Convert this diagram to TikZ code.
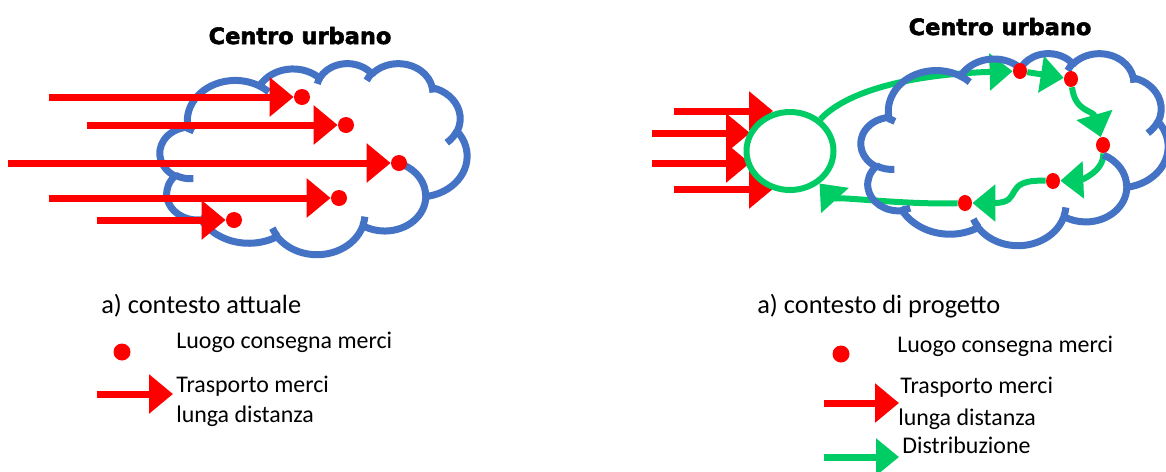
\documentclass[tikz,border=0pt]{standalone}
\usepackage{fontspec}
\setmainfont{Carlito}
\newfontfamily\titlefont{DejaVu Sans}[BoldFeatures={FakeBold=2.5}]
\usetikzlibrary{arrows.meta,shapes.geometric}
\definecolor{cloudblue}{HTML}{4472C4}
\definecolor{distgreen}{HTML}{00CC66}
\definecolor{freightred}{HTML}{FF0000}
\pgfdeclarelayer{back}
\pgfsetlayers{back,main}
\tikzset{
	officearc/.style n args={4}{x radius=#1,y radius=#2,
		start angle={atan2(#1*sin(#3),#2*cos(#3))},
		delta angle={mod(atan2(#1*sin(#3+#4),#2*cos(#3+#4))-atan2(#1*sin(#3),#2*cos(#3))+720,360)}}
}
\newcommand\officecloud{%
	\draw[cloudline] (3.900,14.370)
		\foreach \a/\b/\s/\d in {6.753/9.190/-190.4875/123.7805,5.333/7.267/-144.1024/89.9452,
			4.365/5.945/-145.8079/99.7230,4.857/6.595/-130.9861/117.2417,5.333/7.273/-78.7089/109.0269,
			6.775/9.220/-46.2673/130.2690,5.785/7.867/0.6250/114.0333,6.752/9.215/22.4516/115.1726,
			7.720/10.543/66.2426/75.7110,4.360/5.918/-274.9421/146.7356,4.345/5.945/-246.8285/152.5189}
		{arc[officearc={\a}{\b}{\s}{\d}]} -- cycle;
	\foreach \x/\y/\a/\b/\s/\d in {4.693/26.177/4.345/5.945/86.7420/26.4295,6.928/34.899/4.360/5.918/73.6105/11.4475,
		16.478/39.090/6.752/9.215/137.6242/14.0811,28.827/34.751/6.752/9.215/6.4533/15.9984,
		34.129/22.954/5.785/7.867/-70.2924/70.9174,41.798/15.354/5.333/7.273/30.3180/27.7515,
		38.324/5.426/4.857/6.595/-13.7443/14.8589,29.078/3.952/4.857/6.595/-149.1815/18.1954,
		22.141/4.720/4.365/5.945/-163.4943/17.6864,14.000/5.192/6.753/9.190/-66.7070/12.3194,
		4.127/15.789/6.753/9.190/-157.6544/11.8582}
		\draw[cloudline] (\x,\y) arc[officearc={\a}{\b}{\s}{\d}];
}

\begin{document}
\begin{tikzpicture}[x=0.02cm,y=-0.02cm,
	cloudline/.style={draw=cloudblue,line width=0.14cm,line join=round},
	haul/.style={freightred,line width=0.14cm,-{Triangle[length=0.48cm,width=0.76cm]}},
	tour/.style={distgreen,line width=0.12cm,-{Triangle[length=0.46cm,width=0.72cm]}},
	spot/.style={circle,fill=freightred,inner sep=0pt,minimum size=0.32cm},
	spotr/.style={ellipse,fill=freightred,inner sep=0pt,minimum width=0.28cm,minimum height=0.32cm},
	hubring/.style={ellipse,draw=distgreen,line width=0.12cm,minimum width=1.74cm,minimum height=1.56cm,inner sep=0pt},
	title/.style={anchor=base,inner sep=0pt,font=\titlefont\bfseries\fontsize{12.8}{14}\selectfont},
	heading/.style={anchor=base west,inner sep=0pt,font=\fontsize{15}{18}\selectfont},
	legend/.style={anchor=base west,inner sep=0pt,font=\fontsize{13.6}{16}\selectfont}]
	\useasboundingbox (0,0) rectangle (1166,471);

	\begin{pgfonlayer}{back}
		\begin{scope}[shift={(160,63)},xscale=7.1065,yscale=4.4213]
			\officecloud
		\end{scope}
	\end{pgfonlayer}
	\node[title] (t1) at (300,44) {Centro urbano};
	\node[spot] (d1) at (302,97) {};
	\node[spot] (d2) at (346,125) {};
	\node[spot] (d3) at (399,163) {};
	\node[spot] (d4) at (339,198) {};
	\node[spot] (d5) at (234,220) {};
	\coordinate (s1) at (49,97);
	\coordinate (s2) at (87,125);
	\coordinate (s3) at (8,163);
	\coordinate (s4) at (49,198);
	\coordinate (s5) at (97,220);
	\draw[haul] (s1) -- (d1);
	\draw[haul] (s2) -- (d2);
	\draw[haul] (s3) -- (d3);
	\draw[haul] (s4) -- (d4);
	\draw[haul] (s5) -- (d5);

	\node[heading] (h1) at (101,313) {a) contesto attuale};
	\node[spot,minimum size=0.34cm] (k1) at (122,352) {};
	\node[legend] (k1t) at (176,348) {Luogo consegna merci};
	\coordinate (k2a) at (97,394);
	\coordinate (k2b) at (173,394);
	\draw[haul] (k2a) -- (k2b);
	\node[legend] (k2t) at (176,392) {Trasporto merci};
	\node[legend] (k2u) at (176,422) {lunga distanza};

	\node[title] (t2) at (1000,35) {Centro urbano};
	\node[spotr] (r1) at (1020,71) {};
	\node[spotr] (r2) at (1071,79) {};
	\node[spotr] (r3) at (1103,145) {};
	\node[spotr] (r4) at (1053,181) {};
	\node[spotr] (r5) at (965,203) {};
	\begin{pgfonlayer}{back}
		\coordinate (a1) at (674,111);
		\coordinate (a2) at (652,133);
		\coordinate (a3) at (652,163);
		\coordinate (a4) at (674,189);
		\coordinate (b1) at (773,111);
		\coordinate (b2) at (750,133);
		\coordinate (b3) at (750,163);
		\coordinate (b4) at (773,189);
		\draw[haul] (a1) -- (b1);
		\draw[haul] (a2) -- (b2);
		\draw[haul] (a3) -- (b3);
		\draw[haul] (a4) -- (b4);
		\node[hubring] (hub) at (790,151) {};
		\draw[tour] (hub) .. controls (850,88) and (920,74) .. (r1);
		\draw[tour] (r1) -- (r2);
		\draw[tour] (r2) .. controls (1075,112) and (1093,110) .. (r3);
		\draw[tour] (r3) .. controls (1104,172) and (1080,180) .. (r4);
		\draw[tour] (r4) .. controls (1000,179) and (1025,203) .. (r5);
		\draw[tour] (r5) .. controls (900,205) and (830,195) .. (hub);
		\begin{scope}[shift={(861,53)},xscale=7.1065,yscale=4.4444]
			\officecloud
		\end{scope}
	\end{pgfonlayer}

	\node[heading] (h2) at (757,313) {a) contesto di progetto};
	\node[spot,minimum size=0.34cm] (m1) at (841,354) {};
	\node[legend] (m1t) at (897,352) {Luogo consegna merci};
	\coordinate (m2a) at (824,403);
	\coordinate (m2b) at (899,403);
	\draw[haul] (m2a) -- (m2b);
	\node[legend] (m2t) at (900,393) {Trasporto merci};
	\node[legend] (m2u) at (898,425) {lunga distanza};
	\coordinate (m3a) at (824,457);
	\coordinate (m3b) at (899,457);
	\draw[tour,line width=0.14cm] (m3a) -- (m3b);
	\node[legend] (m3t) at (902,453) {Distribuzione};
\end{tikzpicture}
\end{document}
